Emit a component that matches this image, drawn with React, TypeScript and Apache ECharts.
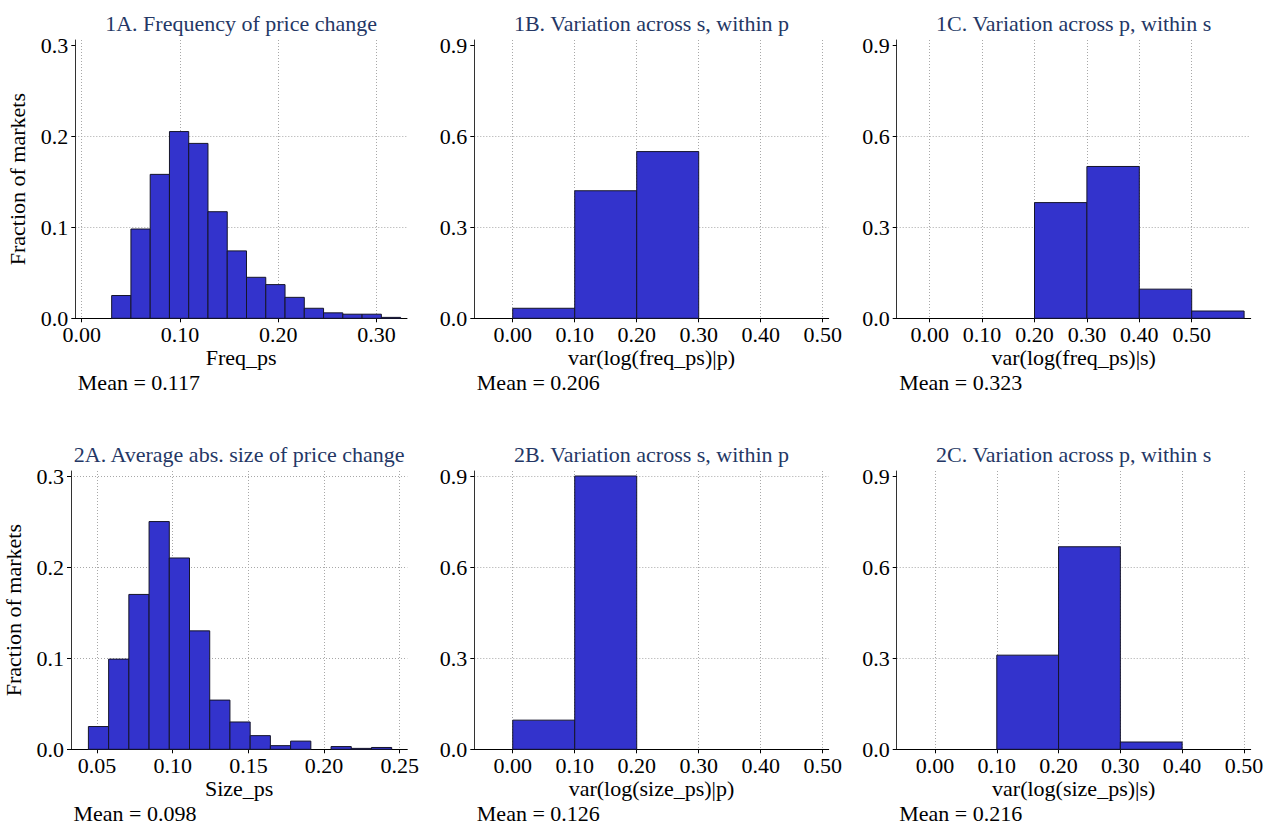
import { useEffect, useRef } from "react";
import * as echarts from "echarts";

// ---------- data ----------
const freqBinStart = 0.0305;
const freqBinWidth = 0.0196;
const freqFractions = [0.025, 0.098, 0.158, 0.205, 0.192, 0.117, 0.074, 0.045, 0.037, 0.023, 0.011, 0.006, 0.0045, 0.0045, 0.001];

const sizeBinStart = 0.0443;
const sizeBinWidth = 0.01336;
const sizeFractions = [0.025, 0.099, 0.17, 0.25, 0.21, 0.13, 0.054, 0.03, 0.015, 0.004, 0.009, 0, 0.003, 0.001, 0.002];

const varBinEdges = [0, 0.1, 0.2, 0.3, 0.4, 0.5, 0.6];
const freqWithinP = [0.033, 0.42, 0.549, 0, 0, 0];
const freqWithinS = [0, 0, 0.381, 0.5, 0.096, 0.024];
const sizeWithinP = [0.096, 0.9, 0, 0, 0, 0];
const sizeWithinS = [0, 0.31, 0.667, 0.024, 0, 0];

const titles = [
  "1A. Frequency of price change",
  "1B. Variation across s, within p",
  "1C. Variation across p, within s",
  "2A. Average abs. size of price change",
  "2B. Variation across s, within p",
  "2C. Variation across p, within s",
];
const xNames = ["Freq_ps", "var(log(freq_ps)|p)", "var(log(freq_ps)|s)", "Size_ps", "var(log(size_ps)|p)", "var(log(size_ps)|s)"];
const means = ["0.117", "0.206", "0.323", "0.098", "0.126", "0.216"];

const xTicksFreq = [0, 0.1, 0.2, 0.3];
const xTicksSize = [0.05, 0.1, 0.15, 0.2, 0.25];
const xTicksVar = [0, 0.1, 0.2, 0.3, 0.4, 0.5];
const yTicksLevel = [0, 0.1, 0.2, 0.3];
const yTicksVar = [0, 0.3, 0.6, 0.9];

// ---------- helpers ----------
const uniformBins = (start: number, width: number, vals: number[]) =>
  vals.map((v, i) => [start + i * width, start + (i + 1) * width, v]).filter((d) => d[2] > 0);
const edgeBins = (edges: number[], vals: number[]) =>
  vals.map((v, i) => [edges[i], edges[i + 1], v]).filter((d) => d[2] > 0);

const FONT = "Liberation Serif";
const TITLE_COLOR = "#243765";
const GRID_COLOR = "#a8a8a8";
const CLEAR = "rgba(0,0,0,0)";

const rowTop = [40, 471];
const plotH = 278.3;

const panels = [
  { left: 75.3, right: 407, row: 0, xMin: -0.0065, xMax: 0.331, xTicks: xTicksFreq, xDec: 2, yMax: 0.3055, yTicks: yTicksLevel, yGrid: [0.1, 0.2], data: uniformBins(freqBinStart, freqBinWidth, freqFractions), yName: true },
  { left: 474.3, right: 828.7, row: 0, xMin: -0.062, xMax: 0.5097, xTicks: xTicksVar, xDec: 2, yMax: 0.9165, yTicks: yTicksVar, yGrid: [0.3, 0.6], data: edgeBins(varBinEdges, freqWithinP), yName: false },
  { left: 896.7, right: 1250.7, row: 0, xMin: -0.063, xMax: 0.6126, xTicks: xTicksVar, xDec: 2, yMax: 0.9165, yTicks: yTicksVar, yGrid: [0.3, 0.6], data: edgeBins(varBinEdges, freqWithinS), yName: false },
  { left: 71, right: 407.3, row: 1, xMin: 0.0328, xMax: 0.255, xTicks: xTicksSize, xDec: 2, yMax: 0.3055, yTicks: yTicksLevel, yGrid: [0.1, 0.2, 0.3], data: uniformBins(sizeBinStart, sizeBinWidth, sizeFractions), yName: true },
  { left: 474.3, right: 828.7, row: 1, xMin: -0.062, xMax: 0.5097, xTicks: xTicksVar, xDec: 2, yMax: 0.9165, yTicks: yTicksVar, yGrid: [0.3, 0.6, 0.9], data: edgeBins(varBinEdges, sizeWithinP), yName: false },
  { left: 896.7, right: 1250.7, row: 1, xMin: -0.062, xMax: 0.511, xTicks: xTicksVar, xDec: 2, yMax: 0.9165, yTicks: yTicksVar, yGrid: [0.3, 0.6], data: edgeBins(varBinEdges, sizeWithinS), yName: false },
];

const renderBin = (_params: any, api: any) => {
  const lo = api.value(0);
  const hi = api.value(1);
  const v = api.value(2);
  const p0 = api.coord([lo, 0]);
  const p1 = api.coord([hi, v]);
  return {
    type: "rect",
    shape: { x: p0[0], y: p1[1], width: p1[0] - p0[0], height: p0[1] - p1[1] },
    style: { fill: "#3333cc", stroke: "#15152a", lineWidth: 1 },
  };
};

export default function App() {
  const ref = useRef<HTMLDivElement>(null);

  useEffect(() => {
    if (!ref.current) return;
    const chart = echarts.init(ref.current, undefined, { renderer: "svg" });

    const grid = panels.map((p) => ({
      left: p.left,
      top: rowTop[p.row],
      width: p.right - p.left,
      height: plotH,
      containLabel: false,
      outerBoundsMode: "none",
    }));

    const xAxis = panels.map((p, i) => ({
      type: "value",
      gridIndex: i,
      min: p.xMin,
      max: p.xMax,
      name: xNames[i],
      nameLocation: "middle",
      nameGap: 27,
      nameTextStyle: { fontFamily: FONT, fontSize: 22, color: "#000" },
      axisLine: { show: true, onZero: false, lineStyle: { color: "#000", width: 1 } },
      axisTick: { show: true, length: 4, customValues: p.xTicks, lineStyle: { color: "#000" } },
      axisLabel: {
        customValues: p.xTicks,
        formatter: (v: number) => v.toFixed(p.xDec),
        fontFamily: FONT,
        fontSize: 22,
        color: "#000",
        margin: 5,
      },
      splitLine: { show: true, lineStyle: { color: GRID_COLOR, type: [1, 2], width: 1 } },
    }));

    const yAxis = panels.map((p, i) => ({
      type: "value",
      gridIndex: i,
      min: 0,
      max: p.yMax,
      name: p.yName ? "Fraction of markets" : "",
      nameLocation: "middle",
      nameGap: 47,
      nameRotate: 90,
      nameTextStyle: { fontFamily: FONT, fontSize: 22, color: "#000" },
      axisLine: { show: true, onZero: false, lineStyle: { color: "#333", width: 1 } },
      axisTick: { show: true, length: 4, customValues: p.yTicks, lineStyle: { color: "#000" } },
      axisLabel: {
        customValues: p.yTicks,
        formatter: (v: number) => v.toFixed(1),
        fontFamily: FONT,
        fontSize: 22,
        color: "#000",
        margin: 7,
      },
      splitLine: {
        show: true,
        lineStyle: {
          color: p.yTicks.map((t) => (p.yGrid.some((g) => Math.abs(g - t) < 1e-9) ? GRID_COLOR : CLEAR)),
          type: [1, 2],
          width: 1,
        },
      },
    }));

    const series = panels.map((p, i) => ({
      type: "custom",
      xAxisIndex: i,
      yAxisIndex: i,
      dimensions: ["lo", "hi", "fraction"],
      encode: { x: ["lo", "hi"], y: "fraction" },
      renderItem: renderBin,
      data: p.data,
      z: 3,
    }));

    const graphic: any[] = [];
    panels.forEach((p, i) => {
      const top = rowTop[p.row];
      graphic.push({
        type: "text",
        x: (p.left + p.right) / 2,
        y: top - 17,
        style: {
          text: titles[i],
          fontFamily: FONT,
          fontSize: 22,
          fill: TITLE_COLOR,
          textAlign: "center",
          textVerticalAlign: "middle",
          align: "center",
          verticalAlign: "middle",
        },
      });
      graphic.push({
        type: "text",
        x: p.left + 2.5,
        y: top + plotH + 64.5,
        style: {
          text: `Mean = ${means[i]}`,
          fontFamily: FONT,
          fontSize: 22,
          fill: "#000",
          textAlign: "left",
          textVerticalAlign: "middle",
          align: "left",
          verticalAlign: "middle",
        },
      });
    });

    chart.setOption({
      animation: false,
      backgroundColor: "#fff",
      grid,
      xAxis,
      yAxis,
      series,
      graphic,
    } as any);

    return () => chart.dispose();
  }, []);

  return (
    <div
      ref={ref}
      style={{ position: "absolute", left: 0, top: 0, width: 1266, height: 825 }}
    />
  );
}
